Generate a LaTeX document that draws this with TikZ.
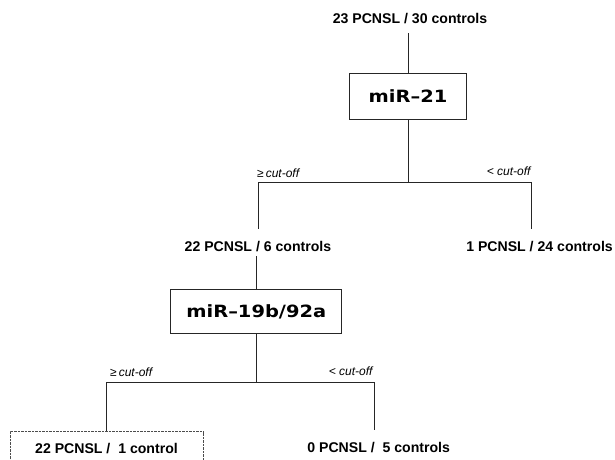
\documentclass[tikz,border=0pt]{standalone}
\usepackage{fontspec}
\setmainfont{Liberation Sans}
\newfontfamily\boxfont{DejaVu Sans}[FakeStretch=1.15]
\begin{document}
\begin{tikzpicture}[x=1pt,y=-1pt,
  wire/.style={draw=black!85, line width=0.95pt},
  leaf/.style={font=\fontsize{14.1}{16}\selectfont\bfseries, inner xsep=0pt,
    text depth=0pt, anchor=base},
  testbox/.style={draw=black!85, line width=1pt, font=\boxfont\fontsize{16.9}{19}\selectfont\bfseries,
    text height=12.3pt, text depth=0pt, inner sep=0pt},
  cut/.style={font=\fontsize{12}{14}\selectfont\itshape, inner sep=0pt},
  final/.style={draw=black!70, line width=0.9pt, dash pattern=on 0.7pt off 0.7pt}]
\useasboundingbox[fill=white] (0,0) rectangle (615,459);

% root population
\node[leaf, text height=10pt, inner ysep=10pt] (t0) at (410,23) {23 PCNSL / 30 controls};

% first split: miR-21
\node[testbox, minimum width=117pt, minimum height=46pt] (b1) at (408,96.3) {miR–21};
\coordinate (j1) at (408,182.3);
\node[cut, anchor=base west] (a1) at (257,177) {≥\,cut-off};
\node[cut, anchor=base east] (a2) at (530.7,175.5) {< cut-off};

\node[leaf, text height=18pt, inner ysep=4.5pt] (l1) at (258,251.5) {22 PCNSL / 6 controls};
\node[leaf, anchor=base east, text height=10pt, inner ysep=3pt] (r1) at (613,251.5) {1 PCNSL / 24 controls};
\coordinate (r1tip) at (531.7,229);

% second split: miR-19b/92a
\node[testbox, minimum width=170.7pt, minimum height=44pt] (b2) at (256.3,311.3) {miR–19b/92a};
\coordinate (j2) at (256.3,382.3);
\node[cut, anchor=base west] (a3) at (110,376.5) {≥\,cut-off};
\node[cut, anchor=base east] (a4) at (372.7,375.5) {< cut-off};

\node[leaf, final, text height=10pt, inner ysep=11.3pt, minimum width=193pt] (lf2) at (106.5,453) {22 PCNSL /\ \ 1 control};
\node[leaf, text height=10pt, inner ysep=3pt] (rf2) at (378.7,452.5) {0 PCNSL /\ \ 5 controls};
\coordinate (rf2tip) at (374,430);

% connectors
\draw[wire] (b1.north) -- (b1.north |- t0.south);
\draw[wire] (b1.south) -- (j1);
\draw[wire] (l1.north) |- (j1) -| (r1tip);
\draw[wire] (b2.north) -- (b2.north |- l1.south);
\draw[wire] (b2.south) -- (j2);
\draw[wire] (lf2.north) |- (j2) -| (rf2tip);
\end{tikzpicture}
\end{document}
